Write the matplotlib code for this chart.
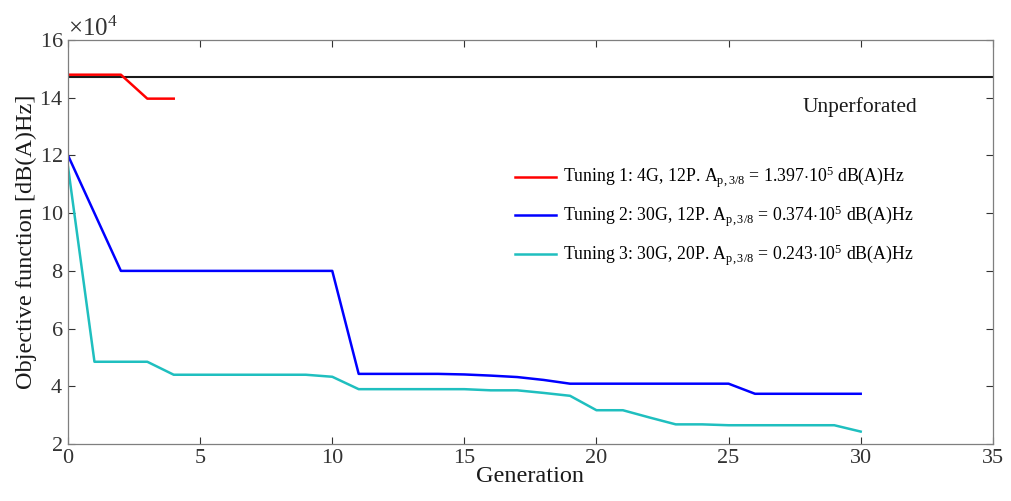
import numpy as np
import matplotlib
matplotlib.use("Agg")
import matplotlib.pyplot as plt
from matplotlib.ticker import ScalarFormatter

plt.rcParams['font.family'] = ['Liberation Serif', 'DejaVu Serif']
plt.rcParams['mathtext.fontset'] = 'custom'
plt.rcParams['mathtext.rm'] = 'Liberation Serif'
plt.rcParams['mathtext.it'] = 'Liberation Serif:italic'

# objective function per generation [dB(A)Hz]
gen_t1 = [0, 1, 2, 3, 4]
obj_t1 = [148000, 148000, 148000, 139700, 139700]

gen_t2 = list(range(0, 31))
obj_t2 = [120000, 100000, 80000, 80000, 80000, 80000, 80000, 80000, 80000, 80000,
          80000, 44300, 44300, 44300, 44300, 44100, 43700, 43200, 42200, 40900,
          40900, 40900, 40900, 40900, 40900, 40900, 37400, 37400, 37400, 37400,
          37400]

gen_t3 = list(range(0, 31))
obj_t3 = [116000, 48500, 48500, 48500, 44000, 44000, 44000, 44000, 44000, 44000,
          43300, 39000, 39000, 39000, 39000, 39000, 38600, 38600, 37700, 36700,
          31700, 31700, 29200, 26800, 26800, 26500, 26500, 26500, 26500, 26500,
          24300]

unperforated = 147200

labels = [r'Tuning 1: 4G, 12P. A$_{\mathrm{p,3/8}}$ = 1.397$\cdot$10$^{5}$ dB(A)Hz',
          r'Tuning 2: 30G, 12P. A$_{\mathrm{p,3/8}}$ = 0.374$\cdot$10$^{5}$ dB(A)Hz',
          r'Tuning 3: 30G, 20P. A$_{\mathrm{p,3/8}}$ = 0.243$\cdot$10$^{5}$ dB(A)Hz']

fig = plt.figure(figsize=(10.11, 5.01), dpi=100)
ax = fig.add_axes([0.0673, 0.1138, 0.9147, 0.8062])

ax.axhline(unperforated, color='#1a1a1a', lw=1.5, zorder=1)
l1, = ax.plot(gen_t1, obj_t1, color='#ff0000', lw=1.8)
l2, = ax.plot(gen_t2, obj_t2, color='#0000ff', lw=1.8)
l3, = ax.plot(gen_t3, obj_t3, color='#1fbfbf', lw=1.8)

ax.text(27.8, 136800, 'Unperforated', fontsize=15.5, color='#1a1a1a', va='center')

ax.set_xlim(0, 35)
ax.set_ylim(20000, 160000)
ax.set_xticks(np.arange(0, 36, 5))
ax.set_yticks(np.arange(20000, 160001, 20000))

fmt = ScalarFormatter(useMathText=True)
fmt.set_powerlimits((4, 4))
ax.yaxis.set_major_formatter(fmt)
ax.yaxis.get_offset_text().set_fontsize(18)
ax.yaxis.get_offset_text().set_color('#333333')

ax.tick_params(direction='in', top=True, right=True, labelsize=16,
               colors='#333333', length=5, width=0.8)
for s in ax.spines.values():
    s.set_color('#7f7f7f')
    s.set_linewidth(0.9)

ax.set_xlabel('Generation', fontsize=17.5, color='#1a1a1a', labelpad=-1)
ax.set_ylabel('Objective function [dB(A)Hz]', fontsize=17.5, color='#1a1a1a', labelpad=2)

fig.legend([l1, l2, l3], labels, loc='center left', bbox_to_anchor=(0.494, 0.568),
           frameon=False, fontsize=12.8, handlelength=2.3, handletextpad=0.35,
           labelspacing=0.75)

fig.savefig('out.png', dpi=100)
